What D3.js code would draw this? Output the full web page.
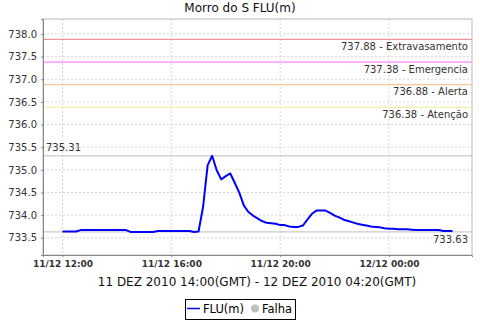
<!DOCTYPE html>
<html>
<head>
<meta charset="utf-8">
<script src="https://cdn.jsdelivr.net/npm/d3@7"></script>
<style>
  body { margin: 0; background: #fff; }
  svg { display: block; font-family: "DejaVu Sans", sans-serif; }
</style>
</head>
<body>
<div id="chart"></div>
<script>
// Series: FLU(m) every 10 minutes, 11/12 12:00 -> 12/12 02:20 (local)
const startTime = Date.UTC(2010, 11, 11, 12, 0);
const stepMinutes = 10;
const fluValues = [
  733.64, 733.64, 733.64, 733.64, 733.67, 733.67, 733.67, 733.67, 733.67, 733.67,
  733.67, 733.67, 733.67, 733.67, 733.67, 733.63, 733.63, 733.63, 733.63, 733.63,
  733.63, 733.65, 733.65, 733.65, 733.65, 733.65, 733.65, 733.65, 733.65, 733.63,
  733.64, 734.18, 735.10, 735.31, 734.99, 734.79, 734.86, 734.92, 734.71, 734.49,
  734.21, 734.07, 733.99, 733.93, 733.87, 733.83, 733.82, 733.81, 733.78, 733.78,
  733.75, 733.74, 733.74, 733.77, 733.90, 734.03, 734.10, 734.10, 734.10, 734.05,
  733.99, 733.95, 733.90, 733.87, 733.84, 733.81, 733.79, 733.77, 733.75, 733.74,
  733.73, 733.71, 733.70, 733.70, 733.69, 733.69, 733.69, 733.68, 733.67, 733.67,
  733.67, 733.67, 733.67, 733.67, 733.65, 733.65, 733.65
];

// Threshold markers
const markerValues = [737.88, 737.38, 736.88, 736.38];
const markerNames = ["Extravasamento", "Emergencia", "Alerta", "Atenção"];
const markerColors = ["#f09494", "#ff88ff", "#f5c896", "#f8f0a8"];

const maxValue = 735.31;
const minValue = 733.63;

const yTicks = [733.5, 734.0, 734.5, 735.0, 735.5, 736.0, 736.5, 737.0, 737.5, 738.0];
const yDomain = [733.12, 738.33];
const xDomain = [Date.UTC(2010, 11, 11, 11, 17), Date.UTC(2010, 11, 12, 3, 3)];

const titleText = "Morro do S FLU(m)";
const subtitleText = "11 DEZ 2010 14:00(GMT) - 12 DEZ 2010 04:20(GMT)";

const data = fluValues.map((v, i) => ({
  t: new Date(startTime + i * stepMinutes * 60000),
  v: v
}));

const width = 480, height = 320;
const margin = { top: 19, right: 8, bottom: 65, left: 43 };
const innerW = width - margin.left - margin.right;
const innerH = height - margin.top - margin.bottom;

const svg = d3.select("#chart").append("svg")
  .attr("width", width)
  .attr("height", height);

const g = svg.append("g")
  .attr("transform", `translate(${margin.left},${margin.top})`);

const x = d3.scaleUtc().domain(xDomain).range([0, innerW]);
const y = d3.scaleLinear().domain(yDomain).range([innerH, 0]);
const xTicks = d3.utcHour.every(4).range(new Date(xDomain[0]), new Date(xDomain[1]));

// Title
svg.append("text")
  .attr("x", width / 2)
  .attr("y", 12)
  .attr("text-anchor", "middle")
  .style("font-size", "12px")
  .attr("fill", "#111")
  .text(titleText);

// Grid lines
g.append("g").selectAll("line")
  .data(xTicks)
  .enter().append("line")
  .attr("x1", d => x(d)).attr("x2", d => x(d))
  .attr("y1", 0).attr("y2", innerH)
  .attr("stroke", "#d4d4d4")
  .attr("stroke-dasharray", "2,2");

g.append("g").selectAll("line")
  .data(yTicks)
  .enter().append("line")
  .attr("x1", 0).attr("x2", innerW)
  .attr("y1", d => y(d)).attr("y2", d => y(d))
  .attr("stroke", "#d4d4d4")
  .attr("stroke-dasharray", "2,2");

// Plot border (top/right)
g.append("rect")
  .attr("width", innerW).attr("height", innerH)
  .attr("fill", "none")
  .attr("stroke", "#b8b8b8");

// Threshold markers
markerValues.forEach((m, i) => {
  g.append("line")
    .attr("x1", 0).attr("x2", innerW)
    .attr("y1", y(m)).attr("y2", y(m))
    .attr("stroke", markerColors[i])
    .attr("stroke-width", 1.3);
  g.append("text")
    .attr("x", innerW - 4)
    .attr("y", y(m) + 10.5)
    .attr("text-anchor", "end")
    .style("font-size", "10px")
    .attr("fill", "#333")
    .text(`${m.toFixed(2)} - ${markerNames[i]}`);
});

// Max / min lines
g.append("line")
  .attr("x1", 0).attr("x2", innerW)
  .attr("y1", y(maxValue)).attr("y2", y(maxValue))
  .attr("stroke", "#bdbdbd");
g.append("text")
  .attr("x", 3)
  .attr("y", y(maxValue) - 5)
  .style("font-size", "10px")
  .attr("fill", "#333")
  .text(maxValue.toFixed(2));

g.append("line")
  .attr("x1", 0).attr("x2", innerW)
  .attr("y1", y(minValue)).attr("y2", y(minValue))
  .attr("stroke", "#bdbdbd");
g.append("text")
  .attr("x", innerW - 4)
  .attr("y", y(minValue) + 11.5)
  .attr("text-anchor", "end")
  .style("font-size", "10px")
  .attr("fill", "#333")
  .text(minValue.toFixed(2));

// Series line
const line = d3.line()
  .x(d => x(d.t))
  .y(d => y(d.v));

g.append("path")
  .datum(data)
  .attr("fill", "none")
  .attr("stroke", "#0000ff")
  .attr("stroke-width", 2)
  .attr("stroke-linejoin", "round")
  .attr("d", line);

// Axes
const yAxis = g.append("g")
  .call(d3.axisLeft(y).tickValues(yTicks).tickFormat(d3.format(".1f")).tickSize(2).tickPadding(4));
yAxis.select(".domain").attr("stroke", "#888");
yAxis.selectAll(".tick line").attr("stroke", "#888");
yAxis.selectAll("text").style("font-size", "10px").attr("fill", "#333")
  .style("font-family", "DejaVu Sans, sans-serif");

const xAxis = g.append("g")
  .attr("transform", `translate(0,${innerH})`)
  .call(d3.axisBottom(x).tickValues(xTicks).tickFormat(d3.utcFormat("%d/%m %H:%M")).tickSize(2).tickPadding(4));
xAxis.select(".domain").attr("stroke", "#888");
xAxis.selectAll(".tick line").attr("stroke", "#888");
xAxis.selectAll("text").style("font-size", "9px").style("font-weight", "bold").attr("fill", "#333")
  .style("font-family", "DejaVu Sans, sans-serif");

// Subtitle
svg.append("text")
  .attr("x", 257)
  .attr("y", 286)
  .attr("text-anchor", "middle")
  .style("font-size", "12px")
  .attr("fill", "#111")
  .text(subtitleText);

// Legend
const legend = svg.append("g").attr("transform", "translate(185,299)");
legend.append("rect")
  .attr("x", 0.5).attr("y", 0.5)
  .attr("width", 110).attr("height", 20)
  .attr("fill", "#fff")
  .attr("stroke", "#000");
legend.append("line")
  .attr("x1", 2).attr("x2", 15)
  .attr("y1", 9.5).attr("y2", 9.5)
  .attr("stroke", "#0000ff")
  .attr("stroke-width", 1.5);
legend.append("text")
  .attr("x", 18).attr("y", 14)
  .style("font-size", "11.5px")
  .text("FLU(m)");
legend.append("circle")
  .attr("cx", 70).attr("cy", 9.5).attr("r", 4)
  .attr("fill", "#c0c0c0");
legend.append("text")
  .attr("x", 77).attr("y", 14)
  .style("font-size", "11.5px")
  .text("Falha");
</script>
</body>
</html>
